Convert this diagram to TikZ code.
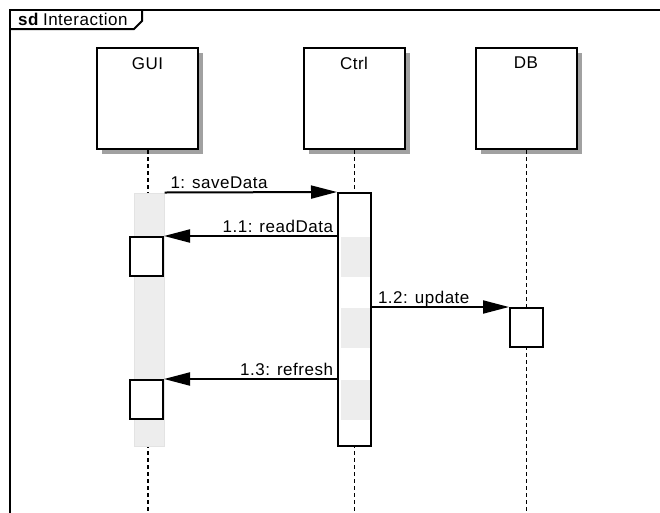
\documentclass[tikz,border=0pt]{standalone}
\usepackage{fontspec}
\setmainfont[LetterSpace=3]{Liberation Sans}
\usetikzlibrary{arrows.meta,positioning,shadows}

\begin{document}
\begin{tikzpicture}[x=1pt, y=-1pt,
    % --- Styles ---
    frame/.style={line width=2pt},
    lbl/.style={font=\fontsize{17}{20}\selectfont, inner sep=3pt, text depth=0pt},
    head/.style={draw, line width=2pt, fill=white, minimum width=101pt,
                 minimum height=101pt, inner sep=0pt,
                 drop shadow={shadow xshift=5pt, shadow yshift=-5pt,
                              fill=black!37, opacity=1}},
    lifeline/.style={dash pattern=on 4pt off 3pt, line width=1.6pt},
    idle/.style={fill=black!7, draw=black!11, line width=1pt, minimum width=30pt,
                 minimum height=253pt, inner sep=0pt},
    exec/.style={draw, line width=2pt, fill=white, minimum width=33pt,
                 minimum height=253pt, inner sep=0pt},
    busy/.style={fill=black!7, minimum width=29pt, minimum height=40pt, inner sep=0pt},
    act/.style={draw, line width=2pt, fill=white, minimum width=33pt,
                minimum height=39pt, inner sep=0pt},
    msg/.style={-{Triangle[length=26pt, width=13pt]}, line width=2pt},
]
\useasboundingbox (0,0) rectangle (660,512);

% === Frame ===
\draw[frame] (10,520) -- (10,10) -- (670,10);
\draw[frame] (10,29) -- (134,29) -- (142,21) -- (142,10);
\node[lbl, anchor=base west, inner sep=0pt] (title) at (18,25)
    {\textbf{sd}\hspace{4pt}Interaction};

% === Lifeline heads ===
\node[head, label={[lbl, anchor=north, yshift=-7pt]north:GUI}]  (gui)  at (147.5,98.5) {};
\node[head, label={[lbl, anchor=north, yshift=-7pt]north:Ctrl}] (ctrl) at (354,98.5) {};
\node[head, label={[lbl, anchor=north, yshift=-7pt]north:DB}]   (db)   at (526,98.5) {};

% === Lifelines ===
\coordinate (guiend)  at (148,520);
\coordinate (ctrlend) at (354.5,520);
\coordinate (dbend)   at (526.5,520);
\draw[lifeline] (gui.south -| guiend) -- (guiend);
\draw[lifeline] (ctrl.south -| ctrlend) -- (ctrlend);
\draw[lifeline] (db.south -| dbend) -- (dbend);

% === Activations ===
\node[idle] (guiact)  at (149,319.5) {};
\node[exec] (ctrlact) at (354.5,319.5) {};
\node[busy] (busy1) at (355.5,257) {};
\node[busy] (busy2) at (355.5,328) {};
\node[busy] (busy3) at (355.5,399.5) {};
\node[act] (read)    at (146.5,256.5) {};
\node[act] (refresh) at (146.5,399.5) {};
\node[act] (update)  at (526.5,327.5) {};

% === Messages ===
\draw[msg] (guiact.north east) -- node[lbl, above right, pos=0, xshift=2pt] {1: saveData} (ctrlact.north west);
\draw[msg] (ctrlact.west |- read.north) -- node[lbl, above left, pos=0] {1.1: readData} (read.north east);
\draw[msg] (ctrlact.east |- update.north) -- node[lbl, above right, pos=0, xshift=2pt] {1.2: update} (update.north west);
\draw[msg] (ctrlact.west |- refresh.north) -- node[lbl, above left, pos=0] {1.3: refresh} (refresh.north east);

\end{tikzpicture}
\end{document}
